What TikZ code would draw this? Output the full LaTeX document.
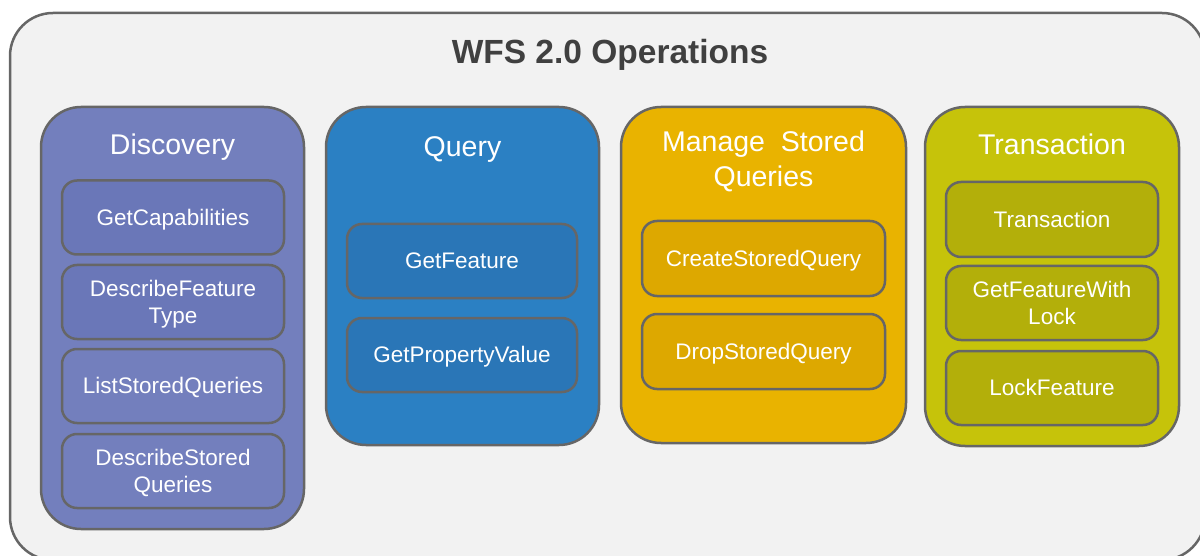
\documentclass[tikz,border=0pt]{standalone}
\usepackage{fontspec}
\setmainfont{Liberation Sans}
\definecolor{outerfill}{HTML}{F2F2F2}
\definecolor{edgegray}{HTML}{666666}
\definecolor{disc}{HTML}{737FBD}
\definecolor{discin}{HTML}{6A77B8}
\definecolor{query}{HTML}{2B80C3}
\definecolor{queryin}{HTML}{2A76B7}
\definecolor{manage}{HTML}{E9B300}
\definecolor{managein}{HTML}{DDA800}
\definecolor{trans}{HTML}{C6C30A}
\definecolor{transin}{HTML}{B3AF0A}
\definecolor{titlegray}{HTML}{404040}
\tikzset{
  outerbox/.style={draw=edgegray, fill=outerfill, line width=2.5pt, rounded corners=43pt},
  colbox/.style={draw=edgegray, line width=2.5pt, rounded corners=40pt, inner sep=0pt, outer sep=0pt},
  opbox/.style={draw=edgegray, line width=2.5pt, rounded corners=15pt, inner sep=0pt, outer sep=0pt,
    text=white, align=center, font=\fontsize{22.5}{27}\selectfont},
  oneline/.style={opbox, text height=15.5pt, text depth=0pt},
  twoline/.style={opbox, text depth=0pt},
  coltitle/.style={text=white, anchor=base, inner sep=0pt, font=\fontsize{28.5}{34}\selectfont},
  maintitle/.style={text=titlegray, anchor=base, inner sep=0pt, font=\fontsize{33.5}{38}\selectfont\bfseries}
}
\begin{document}
\begin{tikzpicture}[x=1pt,y=-1pt]
\useasboundingbox (0,0) rectangle (1200,556);
\draw[outerbox] (10,13) rectangle (1205,560);
\node[maintitle] (title) at (610,64) {WFS 2.0 Operations};

% Discovery
\node[colbox, fill=disc, minimum width=263pt, minimum height=422pt] (disc) at (172.5,318) {};
\node[coltitle] (disctitle) at (172.5,155) {Discovery};
\node[oneline, fill=discin, minimum width=222pt, minimum height=74pt] (getcap) at (173,217.5) {GetCapabilities};
\node[twoline, fill=discin, minimum width=222pt, minimum height=74pt] (descft) at (173,302) {DescribeFeature\\Type};
\node[oneline, fill=disc, minimum width=222pt, minimum height=74pt] (liststored) at (173,386) {ListStoredQueries};
\node[twoline, fill=disc, minimum width=222pt, minimum height=74pt] (descstored) at (173,471) {DescribeStored\\Queries};

% Query
\node[colbox, fill=query, minimum width=273pt, minimum height=338pt] (query) at (462.5,276) {};
\node[coltitle] (querytitle) at (462.5,157) {Query};
\node[oneline, fill=queryin, minimum width=230pt, minimum height=74pt] (getfeat) at (462,261) {GetFeature};
\node[oneline, fill=queryin, minimum width=230pt, minimum height=74pt] (getprop) at (462,355) {GetPropertyValue};

% Manage Stored Queries
\node[colbox, fill=manage, minimum width=285pt, minimum height=336pt] (manage) at (763.5,275) {};
\node[coltitle] (managetitleA) at (763.5,152) {Manage\ \ Stored};
\node[coltitle] (managetitleB) at (763.5,187) {Queries};
\node[oneline, fill=managein, minimum width=243pt, minimum height=75pt] (create) at (763.5,258.5) {CreateStoredQuery};
\node[oneline, fill=managein, minimum width=243pt, minimum height=75pt] (drop) at (763.5,351.5) {DropStoredQuery};

% Transaction
\node[colbox, fill=trans, minimum width=254pt, minimum height=339pt] (trans) at (1052,276.5) {};
\node[coltitle] (transtitle) at (1052,155) {Transaction};
\node[oneline, fill=transin, minimum width=212pt, minimum height=75pt] (transop) at (1052,219.5) {Transaction};
\node[twoline, fill=transin, minimum width=212pt, minimum height=74pt] (getlock) at (1052,303) {GetFeatureWith\\Lock};
\node[oneline, fill=transin, minimum width=212pt, minimum height=74pt] (lockfeat) at (1052,388) {LockFeature};
\end{tikzpicture}
\end{document}
